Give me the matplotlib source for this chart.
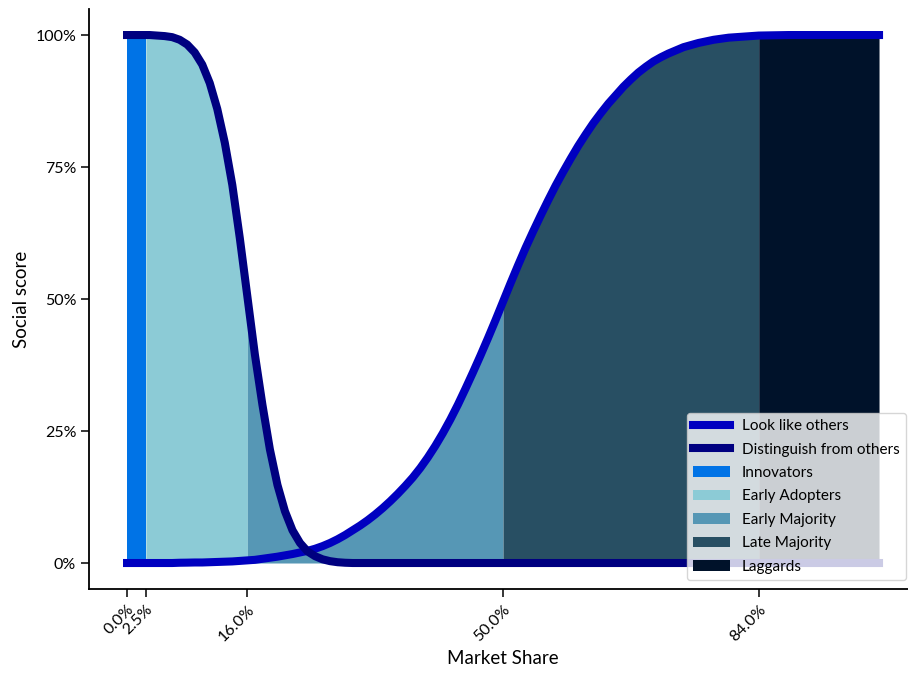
import numpy as np
import matplotlib
matplotlib.use("Agg")
import matplotlib.pyplot as plt

plt.rcParams['font.family'] = ['Lato', 'DejaVu Sans']

# ---- data ----
market_share = [0, 1, 2, 2.5, 3, 4, 5, 6, 7, 8, 9, 10, 11, 12, 13, 14, 15, 16, 17, 18, 19,
                20, 21, 22, 23, 24, 25, 26, 27, 28, 29, 30, 31, 32, 33, 34, 35, 36, 37, 38,
                39, 40, 41, 42, 43, 44, 45, 46, 47, 48, 49, 50, 51, 52, 53, 54, 55, 56, 57,
                58, 59, 60, 61, 62, 63, 64, 65, 66, 67, 68, 69, 70, 71, 72, 73, 74, 75, 76,
                77, 78, 79, 80, 81, 82, 83, 84, 88, 92, 96, 100]

look_like_others = [0, 0, 0, 0, 0, 0, 0, 0, 0.05, 0.07, 0.1, 0.1, 0.15, 0.2, 0.25, 0.3, 0.4,
                    0.5, 0.6, 0.8, 1.0, 1.2, 1.45, 1.7, 2.0, 2.3, 2.7, 3.2, 3.8, 4.5, 5.3,
                    6.2, 7.1, 8.1, 9.2, 10.4, 11.7, 13.1, 14.6, 16.2, 18.0, 20.0, 22.2, 24.6,
                    27.2, 30.0, 33.0, 36.1, 39.3, 42.6, 46.0, 49.5, 53.0, 56.4, 59.7, 62.8,
                    65.8, 68.7, 71.5, 74.1, 76.6, 79.0, 81.2, 83.3, 85.2, 87.0, 88.6, 90.2,
                    91.6, 92.9, 94.0, 95.0, 95.8, 96.5, 97.1, 97.7, 98.1, 98.5, 98.8, 99.1,
                    99.3, 99.5, 99.6, 99.7, 99.8, 99.9, 100, 100, 100, 100]

distinguish = [100, 100, 100, 100, 100, 99.9, 99.8, 99.6, 99.1, 98.2, 96.7, 94.4, 90.9, 86.0,
               79.6, 71.6, 61.5, 50.5, 39.5, 30.0, 21.5, 14.8, 9.8, 6.2, 3.8, 2.2, 1.3, 0.7,
               0.35, 0.15, 0.05, 0, 0, 0, 0, 0, 0, 0, 0, 0, 0, 0, 0, 0, 0, 0, 0, 0, 0, 0, 0,
               0, 0, 0, 0, 0, 0, 0, 0, 0, 0, 0, 0, 0, 0, 0, 0, 0, 0, 0, 0, 0, 0, 0, 0, 0, 0,
               0, 0, 0, 0, 0, 0, 0, 0, 0, 0, 0, 0, 0]

segment_names = ["Innovators", "Early Adopters", "Early Majority", "Late Majority", "Laggards"]
segment_bounds = [0, 2.5, 16, 50, 84, 100]
segment_colors = ["#0073e6", "#8ccbd6", "#5697b5", "#284f63", "#00122a"]

xtick_values = [0, 2.5, 16, 50, 84]
xtick_labels = ["0.0%", "2.5%", "16.0%", "50.0%", "84.0%"]
ytick_values = [0, 25, 50, 75, 100]
ytick_labels = ["0%", "25%", "50%", "75%", "100%"]

# ---- plot ----
x = np.array(market_share, dtype=float)
L = np.array(look_like_others, dtype=float)
D = np.array(distinguish, dtype=float)
assert len(x) == len(L) == len(D)
env = np.maximum(L, D)

fig = plt.figure(figsize=(9.08, 6.74), dpi=100)
ax = fig.add_axes([0.0985, 0.1255, 0.911, 0.8617])

for name, a, b, c in zip(segment_names, segment_bounds[:-1], segment_bounds[1:], segment_colors):
    m = (x >= a) & (x <= b)
    ax.fill_between(x, 0, env, where=m, color=c, linewidth=0, label=name, zorder=1)

ax.plot(x, L, color="#0000c0", lw=5.8, solid_capstyle="projecting",
        solid_joinstyle="round", label="Look like others", zorder=3)
ax.plot(x, D, color="#000080", lw=5.8, solid_capstyle="projecting",
        solid_joinstyle="round", label="Distinguish from others", zorder=4)

ax.set_xlim(-5, 105)
ax.set_ylim(-5, 105)
ax.set_xticks(xtick_values)
ax.set_xticklabels(xtick_labels, rotation=45, ha="right", rotation_mode="anchor", fontsize=11.5)
ax.set_yticks(ytick_values)
ax.set_yticklabels(ytick_labels, fontsize=11.5)
ax.tick_params(length=6, width=1.1)
ax.set_xlabel("Market Share", fontsize=13.5)
ax.set_ylabel("Social score", fontsize=13.5)

for s in ["top", "right"]:
    ax.spines[s].set_visible(False)
for s in ["left", "bottom"]:
    ax.spines[s].set_linewidth(1.3)

handles, labels = ax.get_legend_handles_labels()
order = ["Look like others", "Distinguish from others"] + segment_names
hl = dict(zip(labels, handles))
leg = ax.legend([hl[k] for k in order], order, loc="lower left",
                bbox_to_anchor=(687 / 908, (674 - 580) / 674),
                bbox_transform=fig.transFigure, borderaxespad=0,
                fontsize=11, handlelength=2.4, labelspacing=0.62,
                handletextpad=0.8, framealpha=0.8)
leg.set_zorder(5)

fig.savefig("out.png", dpi=100)
